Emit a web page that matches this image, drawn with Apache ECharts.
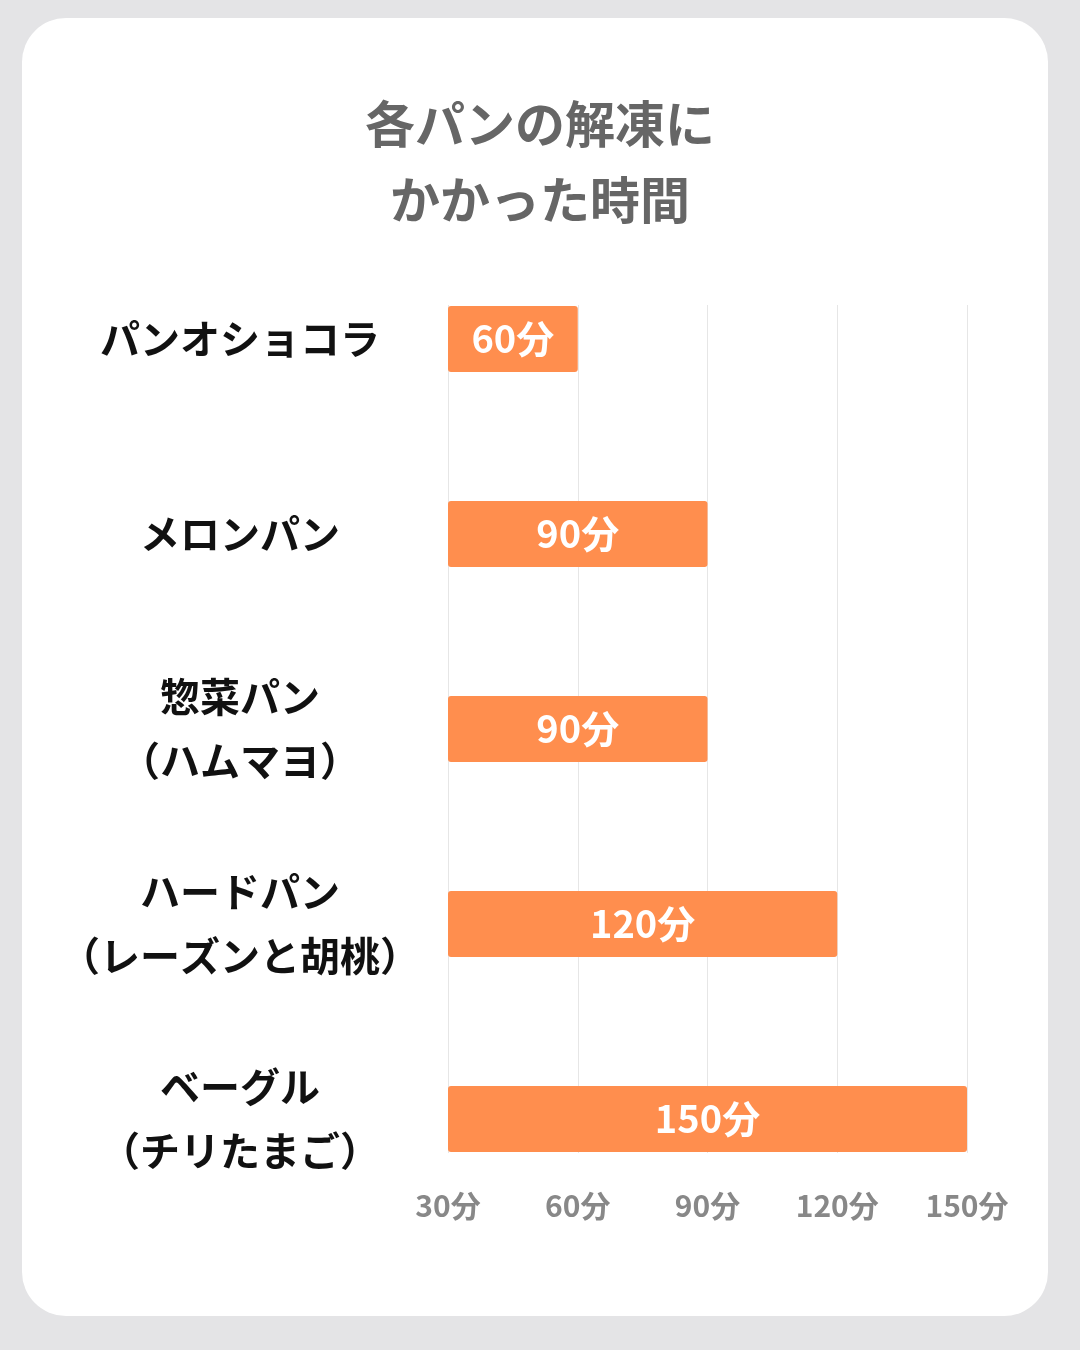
<!DOCTYPE html>
<html>
<head>
<meta charset="utf-8">
<style>
html,body{margin:0;padding:0;background:#e4e4e6;}
#card{position:absolute;left:22px;top:18px;width:1026px;height:1298px;background:#fff;border-radius:44px;}
#main{position:absolute;left:0;top:0;width:1080px;height:1350px;}
</style>
<script src="https://cdn.jsdelivr.net/npm/echarts@6/dist/echarts.min.js"></script>
</head>
<body>
<div id="card"></div>
<div id="main"></div>
<script>
var categories = ['パンオショコラ', 'メロンパン', '惣菜パン\n（ハムマヨ）', 'ハードパン\n（レーズンと胡桃）', 'ベーグル\n（チリたまご）'];
var minutes = [60, 90, 90, 120, 150];
var tickValues = [30, 60, 90, 120, 150];

var chart = echarts.init(document.getElementById('main'));
var font = '"Noto Sans CJK JP", sans-serif';

chart.setOption({
    title: {
        text: '各パンの解凍に\nかかった時間',
        left: 'center',
        top: 81,
        textStyle: { fontFamily: font, fontSize: 50, fontWeight: 'bold', color: '#666', lineHeight: 76 }
    },
    grid: [
        { left: 448, right: 113, top: 339, bottom: 231 },
        { left: 448, right: 113, top: 305, bottom: 197 }
    ],
    xAxis: [
        { gridIndex: 0, type: 'value', min: 30, max: 150, interval: 30, show: false },
        {
            gridIndex: 1, type: 'value', min: 30, max: 150, interval: 30,
            axisLine: { show: false }, axisTick: { show: false },
            splitLine: { lineStyle: { color: '#e6e6e6', width: 1 } },
            axisLabel: {
                margin: 38, color: '#888', fontFamily: font, fontSize: 30, fontWeight: 'bold',
                formatter: function (v) { return v + '分'; }
            }
        }
    ],
    yAxis: [
        {
            gridIndex: 0, type: 'category', data: categories, inverse: true, boundaryGap: false,
            axisLine: { show: false }, axisTick: { show: false },
            axisLabel: {
                margin: 208, align: 'center', color: '#111', fontFamily: font,
                fontSize: 40, fontWeight: 'bold', lineHeight: 64
            }
        },
        { gridIndex: 1, type: 'value', show: false }
    ],
    series: [{
        type: 'bar',
        xAxisIndex: 0, yAxisIndex: 0,
        data: minutes,
        barWidth: 66,
        itemStyle: { color: '#ff8e4e', borderRadius: 3 },
        label: {
            show: true, position: 'inside', color: '#fff',
            fontFamily: font, fontSize: 38, fontWeight: 'bold',
            formatter: function (p) { return p.value + '分'; }
        }
    }]
});
</script>
</body>
</html>
